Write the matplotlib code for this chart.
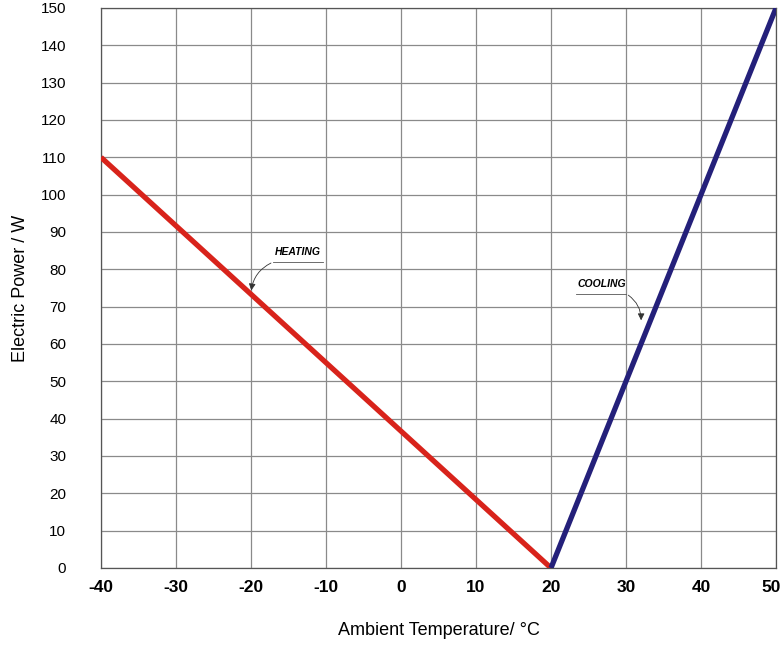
import numpy as np
import matplotlib.pyplot as plt
import matplotlib.transforms as mtransforms

plt.rcParams['font.family'] = ['Liberation Sans', 'DejaVu Sans']

# Data
heating_temp = [-40, 20]
heating_power = [110, 0]
cooling_temp = [20, 50]
cooling_power = [0, 150]

x_ticks = [-40, -30, -20, -10, 0, 10, 20, 30, 40, 50]
y_ticks = list(range(0, 151, 10))

fig = plt.figure(figsize=(7.84, 6.45), dpi=100)
ax = fig.add_axes([0.1288, 0.1194, 0.8610, 0.8682])

ax.plot(heating_temp, heating_power, color='#d8231b', linewidth=3.8, solid_capstyle='butt', zorder=3)
ax.plot(cooling_temp, cooling_power, color='#24207a', linewidth=3.8, solid_capstyle='butt', zorder=3)

ax.set_xlim(-40, 50)
ax.set_ylim(0, 150)
ax.set_xticks(x_ticks)
ax.set_yticks(y_ticks)
ax.set_xticklabels([str(t) for t in x_ticks], fontsize=12.5, fontweight='bold')
ax.set_yticklabels([str(t) for t in y_ticks], fontsize=11)
ax.tick_params(length=0)
ax.tick_params(axis='x', pad=9)
ax.tick_params(axis='y', pad=25)
ax.grid(True, color='#8a8a8a', linewidth=0.9)
for s in ax.spines.values():
    s.set_color('#555555')
    s.set_linewidth(0.9)

# last x label sits a little left so it stays inside the picture
last = ax.get_xticklabels()[-1]
last.set_transform(last.get_transform() + mtransforms.ScaledTranslation(-0.05, 0, fig.dpi_scale_trans))

ax.set_ylabel("Electric Power / W", fontsize=13)
ax.yaxis.set_label_coords(-0.1065, 0.5)
ax.set_xlabel("Ambient Temperature/ °C", fontsize=13)
ax.xaxis.set_label_coords(0.5, -0.097)

# annotations
ax.text(-16.8, 83.2, "HEATING", fontsize=7.5, fontstyle='italic', fontweight='bold', va='bottom')
ax.plot([-17.0, -10.4], [82.0, 82.0], color='#555555', linewidth=0.6)
ax.annotate("", xy=(-20.0, 73.6), xytext=(-17.0, 82.0),
            arrowprops=dict(arrowstyle='-|>', color='#333333', linewidth=0.6,
                            connectionstyle='arc3,rad=0.3', mutation_scale=10))

ax.text(23.6, 74.6, "COOLING", fontsize=7.5, fontstyle='italic', fontweight='bold', va='bottom')
ax.plot([23.4, 30.0], [73.5, 73.5], color='#555555', linewidth=0.6)
ax.annotate("", xy=(32.0, 65.6), xytext=(30.0, 73.5),
            arrowprops=dict(arrowstyle='-|>', color='#333333', linewidth=0.6,
                            connectionstyle='arc3,rad=-0.3', mutation_scale=10))

fig.savefig("out.png", dpi=100)
